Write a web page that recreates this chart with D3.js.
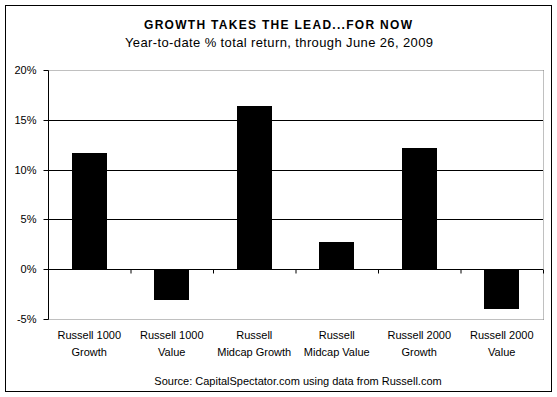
<!DOCTYPE html>
<html>
<head>
<meta charset="utf-8">
<script src="https://cdn.jsdelivr.net/npm/d3@7/dist/d3.min.js"></script>
<style>
  html, body { margin: 0; padding: 0; background: #fff; }
  svg { display: block; font-family: "Liberation Sans", Arial, sans-serif; }
</style>
</head>
<body>
<svg id="chart" width="557" height="397"></svg>
<script>
// Chart data
let categories = [ 'R1000G', 'R1000V', 'RMidG', 'RMidV', 'R2000G', 'R2000V' ],
    labelLines = [
      [ 'Russell 1000', 'Growth' ],
      [ 'Russell 1000', 'Value' ],
      [ 'Russell', 'Midcap Growth' ],
      [ 'Russell', 'Midcap Value' ],
      [ 'Russell 2000', 'Growth' ],
      [ 'Russell 2000', 'Value' ]
    ],
    values     = [ 11.66, -3.14, 16.36, 2.73, 12.13, -4.0 ],
    yTicks     = [ -5, 0, 5, 10, 15, 20 ];

let svg        = d3.select('#chart'),
    plotLeft   = 48,
    plotRight  = 543,
    plotTop    = 70,
    plotBottom = 319;

// Outer chart border
svg.append('rect')
    .attr('x', 5.5).attr('y', 5.5)
    .attr('width', 546).attr('height', 386)
    .attr('fill', '#fff')
    .attr('stroke', '#000')
    .attr('stroke-width', 1);

// Scales
let y = d3.scaleLinear().domain([ -5, 20 ]).range([ plotBottom, plotTop ]),
    x = d3.scaleBand().domain(categories).range([ plotLeft, plotRight ])
        .paddingInner(0.576).paddingOuter(0.288),
    xCell = d3.scaleBand().domain(categories).range([ plotLeft, plotRight ]);

// Plot area border: dotted gray top, bottom and right
let dotted = [
  [ plotLeft, y(20), plotRight, y(20) ],
  [ plotLeft, y(-5), plotRight, y(-5) ],
  [ plotRight, y(20), plotRight, y(-5) ]
];
svg.append('g').selectAll('line')
    .data(dotted)
    .join('line')
    .attr('x1', d => d[0] + 0.5).attr('y1', d => Math.round(d[1]) + 0.5)
    .attr('x2', d => d[2] + 0.5).attr('y2', d => Math.round(d[3]) + 0.5)
    .attr('stroke', '#808080')
    .attr('stroke-dasharray', '1,1');

// Gridlines (solid black) at the inner ticks
svg.append('g').selectAll('line')
    .data(yTicks.filter(t => t > -5 && t < 20))
    .join('line')
    .attr('x1', plotLeft).attr('x2', plotRight)
    .attr('y1', d => Math.round(y(d)) + 0.5)
    .attr('y2', d => Math.round(y(d)) + 0.5)
    .attr('stroke', '#000');

// Bars
svg.append('g').selectAll('rect')
    .data(values)
    .join('rect')
    .attr('x', (d, i) => Math.round(x(categories[i])))
    .attr('width', Math.round(x.bandwidth()))
    .attr('y', d => Math.round(y(Math.max(0, d))))
    .attr('height', d => Math.round(Math.abs(y(d) - y(0))))
    .attr('fill', '#000');

// Zero line with category separator ticks
svg.append('g')
    .attr('transform', 'translate(0,' + (Math.round(y(0)) + 0.5) + ')')
    .call(d3.axisBottom(d3.scaleLinear().domain([ 0, categories.length ]).range([ plotLeft, plotRight ]))
        .tickValues(d3.range(1, categories.length + 1))
        .tickSize(4)
        .tickFormat(''))
    .call(g => g.select('.domain').attr('d', 'M' + plotLeft + ',0H' + plotRight))
    .call(g => g.selectAll('.tick line').attr('stroke', '#000'));

// Y axis
svg.append('g')
    .attr('transform', 'translate(' + (plotLeft + 0.5) + ',0)')
    .call(d3.axisLeft(y)
        .tickValues(yTicks)
        .tickSize(5)
        .tickPadding(7)
        .tickFormat(d => d + '%'))
    .call(g => g.select('.domain').attr('d', 'M0,' + (y(20) + 0.5) + 'V' + (y(-5) + 0.5)))
    .call(g => g.selectAll('.tick line').attr('stroke', '#000'))
    .call(g => g.selectAll('.tick').attr('transform', d => 'translate(0,' + (Math.round(y(d)) + 0.5) + ')'))
    .call(g => g.selectAll('text')
        .attr('font-family', '"Liberation Sans", Arial, sans-serif')
        .attr('font-size', 11)
        .attr('fill', '#000'));

// Category labels
let catLabels = svg.append('g').selectAll('text')
    .data(labelLines)
    .join('text')
    .attr('text-anchor', 'middle')
    .attr('font-size', 11)
    .attr('fill', '#000');

catLabels.selectAll('tspan')
    .data((d, i) => d.map(line => ({ line: line, cx: xCell(categories[i]) + xCell.bandwidth() / 2 })))
    .join('tspan')
    .attr('x', d => d.cx)
    .attr('y', (d, j) => 339 + j * 17)
    .text(d => d.line);

// Titles
svg.append('text')
    .attr('x', 278).attr('y', 29)
    .attr('text-anchor', 'middle')
    .attr('font-size', 12)
    .attr('font-weight', 'bold')
    .attr('textLength', 268)
    .attr('lengthAdjust', 'spacing')
    .text('GROWTH TAKES THE LEAD...FOR NOW');

svg.append('text')
    .attr('x', 279).attr('y', 47)
    .attr('text-anchor', 'middle')
    .attr('font-size', 13)
    .attr('textLength', 308)
    .attr('lengthAdjust', 'spacing')
    .text('Year-to-date % total return, through June 26, 2009');

svg.append('text')
    .attr('x', 298).attr('y', 385)
    .attr('text-anchor', 'middle')
    .attr('font-size', 11)
    .text('Source:  CapitalSpectator.com using data from Russell.com');
</script>
</body>
</html>
